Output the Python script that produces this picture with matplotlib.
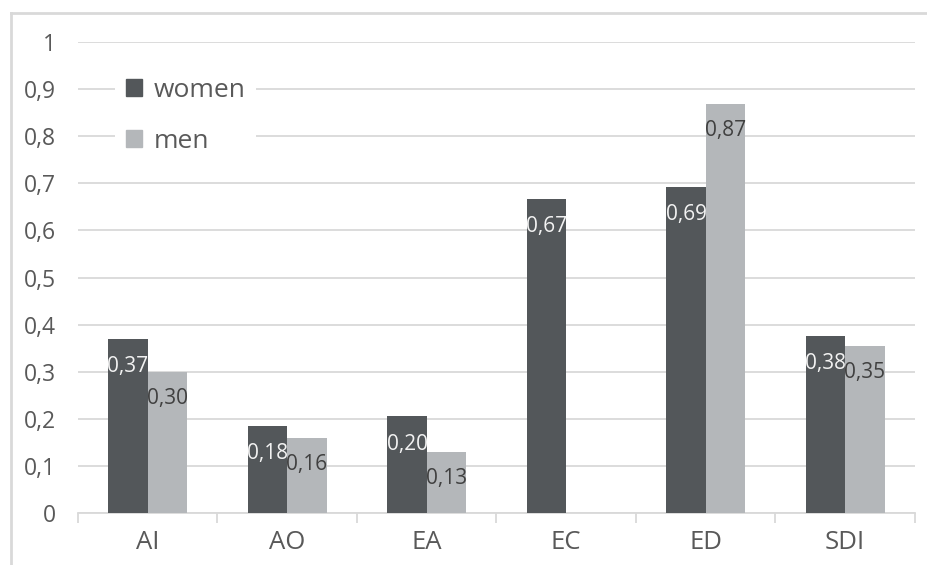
import matplotlib
matplotlib.use("Agg")
import matplotlib.pyplot as plt
from matplotlib.lines import Line2D
from matplotlib.patches import Patch
import numpy as np

plt.rcParams['font.family'] = ['Open Sans', 'DejaVu Sans']

categories = ["AI", "AO", "EA", "EC", "ED", "SDI"]
women = [0.37, 0.185, 0.205, 0.667, 0.693, 0.376]
men = [0.30, 0.16, 0.13, 0.0, 0.868, 0.354]
yticks = [0, 0.1, 0.2, 0.3, 0.4, 0.5, 0.6, 0.7, 0.8, 0.9, 1]

c_women = "#53575a"
c_men = "#b4b7ba"
grid_c = "#d9d9d9"
text_c = "#595959"

fig = plt.figure(figsize=(9.28, 5.65), dpi=100)
ax = fig.add_axes([78 / 928, 52 / 565, 837 / 928, 471 / 565])

x = np.arange(len(categories))
w = 0.283
b1 = ax.bar(x - w / 2, women, w, color=c_women, zorder=3)
b2 = ax.bar(x + w / 2, men, w, color=c_men, zorder=3)


def fmt(v):
    return ("%.2f" % v).replace(".", ",")


for rect, v in zip(b1, women):
    if v > 0:
        ax.annotate(fmt(v), (rect.get_x() + rect.get_width() / 2, v),
                    xytext=(0, -20), textcoords="offset points",
                    ha="center", va="center", fontsize=15, color="#f2f2f2", zorder=4)
for rect, v in zip(b2, men):
    if v > 0:
        ax.annotate(fmt(v), (rect.get_x() + rect.get_width() / 2, v),
                    xytext=(0, -19), textcoords="offset points",
                    ha="center", va="center", fontsize=15, color="#404040", zorder=4)

ax.set_xlim(-0.5, len(categories) - 0.5)
ax.set_ylim(0, 1)
ax.set_yticks(yticks)
ax.set_yticklabels([("%g" % t).replace(".", ",") for t in yticks])
ax.yaxis.grid(True, color=grid_c, linewidth=1.3, zorder=0)
ax.set_axisbelow(True)

ax.set_xticks(x)
ax.set_xticklabels(categories)
ax.set_xticks(np.arange(len(categories) + 1) - 0.5, minor=True)
ax.tick_params(axis="x", which="major", length=0, pad=12, labelsize=18.5, labelcolor=text_c)
ax.tick_params(axis="x", which="minor", length=7.5, width=1.3, color=grid_c, direction="out")
ax.tick_params(axis="y", length=0, pad=16, labelsize=16.5, labelcolor=text_c)

for s in ["top", "right", "left"]:
    ax.spines[s].set_visible(False)
ax.spines["bottom"].set_color(grid_c)
ax.spines["bottom"].set_linewidth(1.3)

handles = [Patch(color=c_women, label="women"), Patch(color=c_men, label="men")]
leg = ax.legend(handles=handles, loc="upper left", bbox_to_anchor=(0.029, 0.975),
                frameon=True, facecolor="white", edgecolor="none", framealpha=1,
                fontsize=19, handlelength=0.6, handleheight=0.6, handletextpad=0.45,
                labelspacing=1.0, borderpad=0.4, labelcolor=text_c)
leg.set_zorder(5)

# outer chart frame (cropped on right and bottom)
fig.add_artist(Line2D([11 / 928, 11 / 928], [0, 1 - 13 / 565], color=grid_c, linewidth=2))
fig.add_artist(Line2D([11 / 928, 1], [1 - 13 / 565, 1 - 13 / 565], color=grid_c, linewidth=2))

fig.savefig("out.png", dpi=100)
